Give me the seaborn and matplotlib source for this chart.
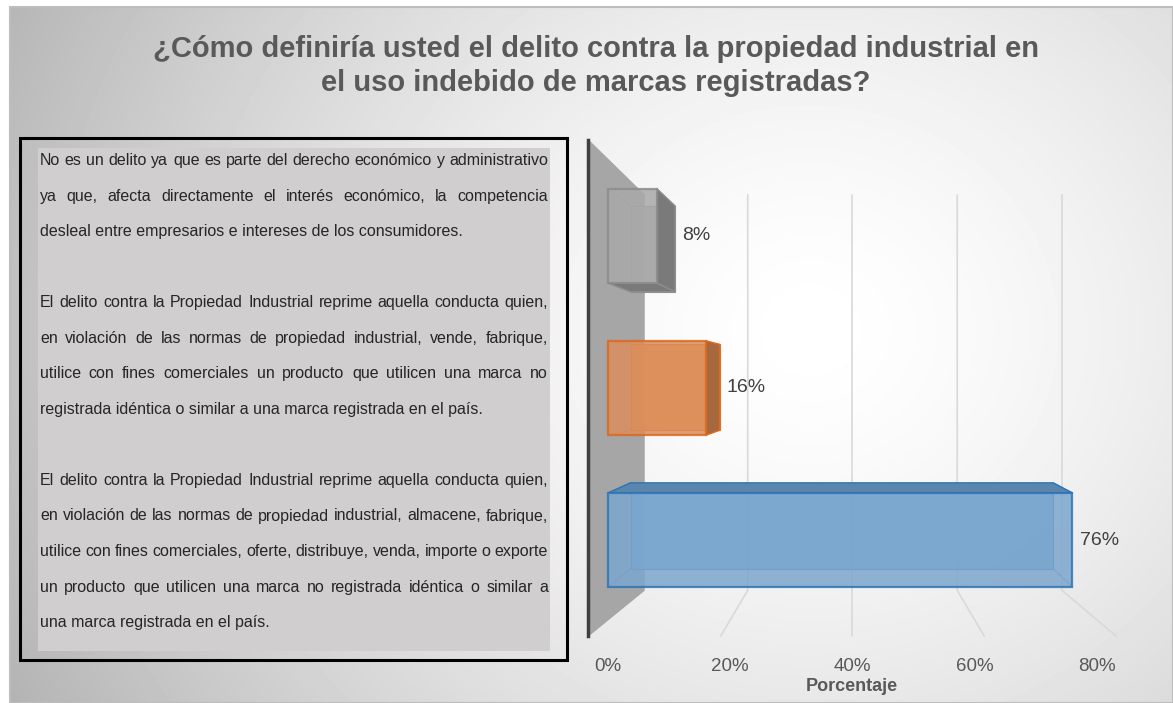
import numpy as np
import pandas as pd
import matplotlib
matplotlib.use("Agg")
import matplotlib.pyplot as plt
import seaborn as sns
from matplotlib.patches import Rectangle, Polygon

# %% data
title = ("¿Cómo definiría usted el delito contra la propiedad industrial en\n"
         "el uso indebido de marcas registradas?")

# answer options, as they are broken into lines in the side box
option_lines = [
    ["No es un delito ya que es parte del derecho económico y administrativo",
     "ya que, afecta directamente el interés económico, la competencia",
     "desleal entre empresarios e intereses de los consumidores."],
    ["El delito contra la Propiedad Industrial reprime aquella conducta quien,",
     "en violación de las normas de propiedad industrial, vende, fabrique,",
     "utilice con fines comerciales un producto que utilicen una marca no",
     "registrada idéntica o similar a una marca registrada en el país."],
    ["El delito contra la Propiedad Industrial reprime aquella conducta quien,",
     "en violación de las normas de propiedad industrial, almacene, fabrique,",
     "utilice con fines comerciales, oferte, distribuye, venda, importe o exporte",
     "un producto que utilicen una marca no registrada idéntica o similar a",
     "una marca registrada en el país."],
]
categories = [" ".join(l) for l in option_lines]
values = [0.08, 0.16, 0.76]
value_labels = ["8%", "16%", "76%"]
tick_values = [0, 0.2, 0.4, 0.6, 0.8]
tick_labels = ["0%", "20%", "40%", "60%", "80%"]
x_label = "Porcentaje"

# %% style
front_colors = ["#a9a9a9", "#ef8a48", "#6fa6da"]
edge_colors = ["#8c8c8c", "#dc6a1e", "#2e75b6"]
depth_colors = ["#7a7a7a", "#a6683f", "#5a86ae"]
text_grey = "#595959"

W, H = 1173, 703
sns.set_theme(style="white")
plt.rcParams["font.family"] = ["Liberation Sans", "DejaVu Sans"]

fig = plt.figure(figsize=(W / 100, H / 100), dpi=100)
fig.patch.set_facecolor("white")

# radial grey background panel
bg = fig.add_axes([10 / W, 0, 1 - 10 / W, 1 - 7 / H])
gx, gy = np.meshgrid(np.arange(10, W), np.arange(7, H))
r = np.hypot(gx - 810, (gy - 330) * 1.1) / 820
shade = 255 - 66 * np.clip(r, 0, 1.15) ** 1.5
bg.imshow(shade, cmap="gray", vmin=0, vmax=255, aspect="auto", interpolation="bilinear")
bg.axis("off")
fig.add_artist(Rectangle((10 / W, 0), 1 - 10 / W, 1 - 7 / H, fill=False,
                         edgecolor="#bdbdbd", lw=1.5, transform=fig.transFigure))

# %% bar chart
ax = fig.add_axes([588 / W, 1 - 636 / H, 512 / W, 496 / H])
ax.set_facecolor("none")
df = pd.DataFrame({"opcion": categories, "porcentaje": values})
sns.barplot(data=df, x="porcentaje", y="opcion", hue="opcion", palette=front_colors,
            orient="h", width=0.62, legend=False, ax=ax, zorder=3, alpha=0.85)
bars = list(ax.patches)
ax.set_xlim(-0.0327, 0.805)
ax.set_ylim(2.63, -0.63)

# side wall and back-wall grid
ax.fill([-0.0327, 0.059, 0.059, -0.0327], [-0.63, -0.27, 2.33, 2.63],
        color="#a6a6a6", zorder=1)
for t in tick_values[1:]:
    xb = 0.4 + 0.857 * (t - 0.4)
    xf = 0.4 + 1.078 * (t - 0.4)
    ax.plot([xb, xb, xf], [-0.27, 2.33, 2.63], color="#d9d9d9", lw=1.2,
            zorder=0.5, clip_on=False)

# fake 3D depth: back face shrunk toward a vanishing point
vx, vy, s = 0.41, 0.95, 0.91


def toward(p):
    return (vx + s * (p[0] - vx), vy + s * (p[1] - vy))


for i, p in enumerate(bars):
    x0, y0 = p.get_x(), p.get_y()
    x1, y1 = x0 + p.get_width(), y0 + p.get_height()
    TL, TR, BR, BL = (x0, y0), (x1, y0), (x1, y1), (x0, y1)
    bTL, bTR, bBR, bBL = toward(TL), toward(TR), toward(BR), toward(BL)
    ec = edge_colors[i]
    ax.add_patch(Polygon([bTL, bTR, bBR, bBL], facecolor=front_colors[i],
                         edgecolor=ec, lw=0.8, alpha=0.9, zorder=2))
    faces = []
    if bTR[0] > x1:
        faces.append([TR, bTR, bBR, BR])
    if bBL[1] > y1:
        faces.append([BL, bBL, bBR, BR])
    if bTL[1] < y0:
        faces.append([TL, bTL, bTR, TR])
    for f in faces:
        ax.add_patch(Polygon(f, facecolor=depth_colors[i], edgecolor=ec, lw=1, zorder=2.5))
    for a, b in [(TL, bTL), (TR, bTR), (BR, bBR), (BL, bBL)]:
        ax.plot([a[0], b[0]], [a[1], b[1]], color=ec, lw=0.8, alpha=0.6, zorder=2.6)
    p.set_edgecolor(ec)
    p.set_linewidth(1.6)
    ax.text(max(x1, bTR[0]) + 0.012, i, value_labels[i], va="center", ha="left",
            fontsize=14, color="#404040", zorder=5)

ax.set_xticks(tick_values, tick_labels)
ax.set_yticks([])
ax.set_ylabel("")
ax.tick_params(axis="x", length=0, pad=16, labelsize=13.5, labelcolor=text_grey)
ax.set_xlabel(x_label, fontsize=13, fontweight="bold", color=text_grey)
ax.xaxis.set_label_coords(0.516, -0.085)
for side in ["top", "right", "bottom"]:
    ax.spines[side].set_visible(False)
ax.spines["left"].set_color("#404040")
ax.spines["left"].set_linewidth(2.5)
ax.spines["left"].set_zorder(4)

# %% title
fig.text(596 / W, 1 - 66 / H, title, ha="center", va="center", fontsize=21,
         fontweight="bold", color=text_grey, linespacing=1.3)

# %% side box with the answer options (justified text)
fig.add_artist(Rectangle((38 / W, 1 - 651 / H), 512 / W, 503 / H, facecolor="#d0cece",
                         edgecolor="none", transform=fig.transFigure))
fig.add_artist(Rectangle((20 / W, 1 - 660 / H), 547 / W, 522 / H, fill=False,
                         edgecolor="black", lw=2.2, transform=fig.transFigure))

renderer = fig.canvas.get_renderer()
left, right = 40, 548
box_font = dict(ha="left", va="baseline", fontsize=11.5, color="#262626")
k = 0
for lines in option_lines:
    for j, line in enumerate(lines):
        yb = 1 - (160 + 5 + k * 35.55) / H
        if j == len(lines) - 1:
            fig.text(left / W, yb, line, **box_font)
        else:
            words = line.split()
            arts = [fig.text(0, yb, w, **box_font) for w in words]
            widths = [a.get_window_extent(renderer).width for a in arts]
            gap = (right - left - sum(widths)) / (len(words) - 1)
            x = left
            for a, wd in zip(arts, widths):
                a.set_x(x / W)
                x += wd + gap
        k += 1
    k += 1

fig.savefig("out.png", dpi=100)
